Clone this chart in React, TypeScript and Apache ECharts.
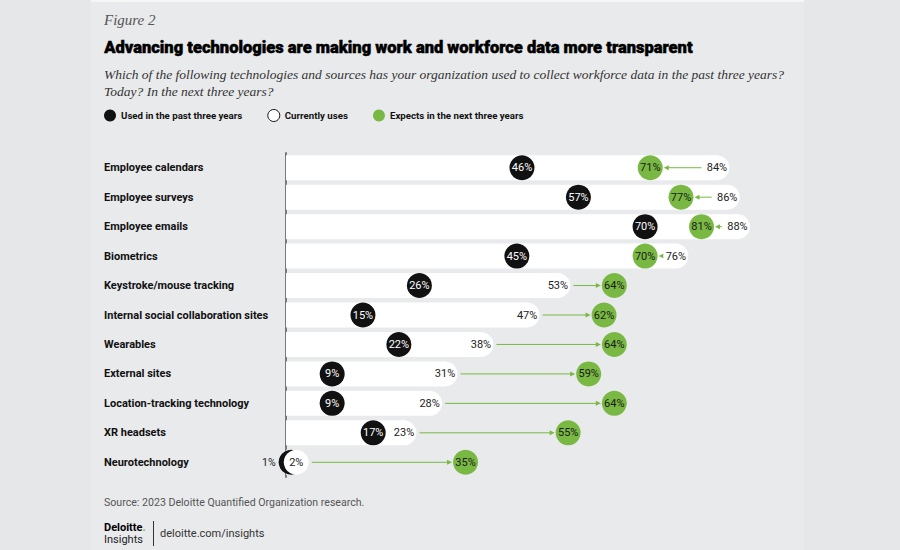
import React, { useEffect, useRef } from "react";
import * as echarts from "echarts";

const categories = [
  "Employee calendars",
  "Employee surveys",
  "Employee emails",
  "Biometrics",
  "Keystroke/mouse tracking",
  "Internal social collaboration sites",
  "Wearables",
  "External sites",
  "Location-tracking technology",
  "XR headsets",
  "Neurotechnology",
];
const pastValues = [46, 57, 70, 45, 26, 15, 22, 9, 9, 17, 1];
const currentValues = [84, 86, 88, 76, 53, 47, 38, 31, 28, 23, 2];
const expectedValues = [71, 77, 81, 70, 64, 62, 64, 59, 64, 55, 35];

const seriesNames = [
  "Used in the past three years",
  "Currently uses",
  "Expects in the next three years",
];

const GREEN = "#78b843";
const BLACK = "#111111";
const R = 12.5;

export default function App() {
  const ref = useRef<HTMLDivElement>(null);
  useEffect(() => {
    if (!ref.current) return;
    const chart = echarts.init(ref.current, null, { renderer: "svg" });
    const pct = (p: any) => p.value[0] + "%";
    const labelFont = { fontFamily: "Roboto", fontSize: 11 };
    chart.setOption({
      animation: false,
      backgroundColor: "#e6e7e9",
      graphic: [
        { type: "rect", z: -10, shape: { x: 91, y: 0, width: 713, height: 550 }, style: { fill: "#e9eaec" } },
        { type: "line", z: -9, shape: { x1: 91, y1: 1, x2: 804, y2: 1 }, style: { stroke: "#f6f6f7", lineWidth: 2 } },
        {
          type: "text", left: 104, top: 12,
          style: { text: "Figure 2", font: "italic 15px 'Liberation Serif'", fill: "#555" },
        },
        {
          type: "text", left: 104, top: 39,
          style: {
            text: "Advancing technologies are making work and workforce data more transparent",
            font: "900 16.5px Roboto", fill: "#000", stroke: "#000", lineWidth: 0.5,
          },
        },
        {
          type: "text", left: 104, top: 66,
          style: {
            text: "Which of the following technologies and sources has your organization used to collect workforce data in the past three years?\nToday? In the next three years?",
            font: "italic 13.5px 'Liberation Serif'", fill: "#333", lineHeight: 17,
          },
        },
        {
          type: "text", left: 104, top: 497,
          style: { text: "Source: 2023 Deloitte Quantified Organization research.", font: "10.6px Roboto", fill: "#555" },
        },
        {
          type: "text", left: 104, top: 522,
          style: {
            text: "{a|Deloitte}{g|.}",
            rich: {
              a: { fontFamily: "Roboto", fontWeight: "bold", fontSize: 11, fill: "#000" },
              g: { fontFamily: "Roboto", fontWeight: "bold", fontSize: 11, fill: GREEN },
            },
          },
        },
        {
          type: "text", left: 104, top: 534,
          style: { text: "Insights", font: "11px Roboto", fill: "#222" },
        },
        { type: "line", shape: { x1: 153.5, y1: 521, x2: 153.5, y2: 546 }, style: { stroke: "#333", lineWidth: 1 } },
        {
          type: "text", left: 160, top: 528,
          style: { text: "deloitte.com/insights", font: "11px Roboto", fill: "#333" },
        },
      ],
      legend: {
        left: 104,
        top: 109,
        padding: 0,
        itemWidth: 12,
        itemHeight: 12,
        itemGap: 25,
        icon: "circle",
        textStyle: { fontFamily: "Roboto", fontWeight: "bold", fontSize: 9.7, color: "#111" },
        data: [
          { name: seriesNames[0] },
          { name: seriesNames[1], itemStyle: { color: "#fff", borderColor: "#111", borderWidth: 1 } },
          { name: seriesNames[2] },
        ],
        selectedMode: false,
      },
      grid: { left: 286, right: 101, top: 153, height: 324 },
      xAxis: {
        type: "value", min: 0, max: 100,
        show: false,
      },
      yAxis: {
        type: "category",
        data: categories,
        inverse: true,
        axisLine: { show: true, lineStyle: { color: "#7a7a7a", width: 2 } },
        axisTick: { show: false },
        axisLabel: {
          align: "left",
          margin: 182,
          fontFamily: "Roboto",
          fontWeight: "bold",
          fontSize: 11,
          color: "#111",
        },
      },
      series: [
        {
          type: "bar",
          name: "band",
          data: currentValues,
          barWidth: 25,
          itemStyle: { color: "#ffffff" },
          z: 1,
          silent: true,
        },
        {
          type: "custom",
          name: "arrows",
          z: 2,
          data: categories.map((c, i) => [currentValues[i], expectedValues[i], i]),
          encode: { x: [0, 1], y: 2 },
          renderItem: (params: any, api: any) => {
            const a = api.coord([api.value(0), api.value(2)]);
            const b = api.coord([api.value(1), api.value(2)]);
            const dir = b[0] > a[0] ? 1 : -1;
            const x1 = a[0] + dir * (R + 3);
            const x2 = b[0] - dir * (R + 1);
            const y = a[1];
            const children: any[] = [];
            if ((x2 - dir * 4 - x1) * dir > 0) {
              children.push({
                type: "line",
                shape: { x1, y1: y, x2: x2 - dir * 4, y2: y },
                style: { stroke: GREEN, lineWidth: 1 },
              });
            }
            children.push({
              type: "polygon",
              shape: { points: [[x2, y], [x2 - dir * 5, y - 2.5], [x2 - dir * 5, y + 2.5]] },
              style: { fill: GREEN },
            });
            return { type: "group", children };
          },
        },
        {
          type: "scatter",
          name: seriesNames[0],
          z: 3,
          symbolSize: 25,
          itemStyle: { color: BLACK, opacity: 1 },
          data: pastValues.map((v, i) => {
            const item: any = { value: [v, categories[i]] };
            if (v < 3) {
              item.label = { position: "left", distance: 3, color: "#222", fontSize: 10.5 };
            }
            return item;
          }),
          label: { show: true, position: "inside", formatter: pct, color: "#fff", ...labelFont },
        },
        {
          type: "scatter",
          name: seriesNames[1],
          z: 4,
          symbolSize: 25,
          itemStyle: { color: "#ffffff", opacity: 1 },
          data: currentValues.map((v, i) => [v, categories[i]]),
          label: { show: true, position: "inside", formatter: pct, color: "#222", ...labelFont },
        },
        {
          type: "scatter",
          name: seriesNames[2],
          z: 5,
          symbolSize: 25,
          itemStyle: { color: GREEN, opacity: 1 },
          data: expectedValues.map((v, i) => [v, categories[i]]),
          label: { show: true, position: "inside", formatter: pct, color: "#1a1a1a", ...labelFont },
        },
      ],
    });
    return () => chart.dispose();
  }, []);
  return (
    <div
      ref={ref}
      style={{ position: "fixed", left: 0, top: 0, width: 900, height: 550 }}
    />
  );
}
